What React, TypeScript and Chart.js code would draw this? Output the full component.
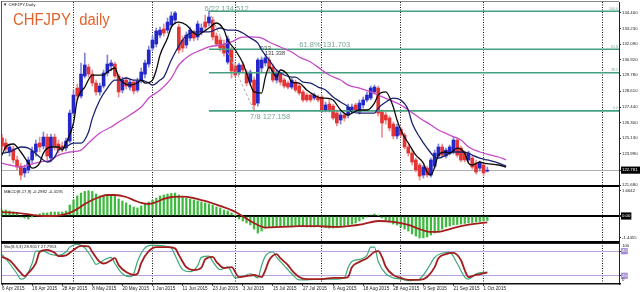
import React, { useEffect, useRef } from "react";
import { Chart, registerables } from "chart.js";

Chart.register(...registerables);

// ---------------- data ----------------
const symbolLabel = "CHFJPY,Daily";
const chartTitle = "CHFJPY  daily";
const macdLabel = "MACD(8,17,9) -0.2982 -0.4195";
const stochLabel = "Sto(8,3,3) 28.9017 27.7953";

const dateTickBars = [0, 8, 16, 24, 32, 40, 48, 56, 64, 72, 80, 88, 96, 104, 112, 120, 128];
const dateTickLabels = [
  "6 Apr 2015", "16 Apr 2015", "28 Apr 2015", "8 May 2015", "20 May 2015", "1 Jun 2015",
  "11 Jun 2015", "23 Jun 2015", "3 Jul 2015", "15 Jul 2015", "27 Jul 2015", "6 Aug 2015",
  "18 Aug 2015", "28 Aug 2015", "9 Sep 2015", "21 Sep 2015", "1 Oct 2015",
];
const periodSeparatorBars = [19, 40, 62, 85, 106, 128, 159.5];

const opens = [
  125.15, 124.78, 124.12, 124.34, 123.53, 123.08, 122.57, 122.79, 123.53, 124.12,
  124.78, 124.56, 125.22, 123.67, 125.22, 124.71, 124.56, 124.41, 124.93, 126.99,
  128.84, 128.25, 129.73, 130.39, 129.87, 129.21, 128.55, 128.99, 129.95, 130.47,
  130.61, 129.73, 128.69, 129.43, 128.91, 129.28, 128.69, 129.36, 129.87, 130.61,
  131.79, 132.09, 132.75, 133.20, 133.12, 133.49, 133.86, 133.34, 132.38, 132.02,
  132.53, 132.90, 132.61, 132.98, 133.71, 133.64, 133.86, 132.68, 132.38, 132.09,
  130.76, 131.65, 130.47, 130.02, 130.54, 130.02, 129.28, 129.43, 127.73, 130.32,
  130.69, 130.91, 130.39, 129.43, 129.87, 129.43, 129.21, 128.91, 129.28, 128.99,
  128.55, 128.32, 128.32, 128.10, 128.18, 128.18, 127.22, 127.66, 127.51, 126.99,
  126.48, 126.85, 126.85, 127.14, 127.59, 127.07, 127.59, 127.96, 128.10, 128.55,
  128.84, 127.07, 126.85, 126.63, 126.18, 125.30, 125.81, 125.37, 124.49, 124.04,
  123.53, 123.16, 122.42, 122.93, 122.42, 123.08, 123.82, 124.49, 123.82, 124.04,
  124.12, 125.00, 124.41, 124.04, 123.53, 123.67, 123.30, 122.93, 123.16, 122.71,
];
const highs = [
  125.45, 125.08, 124.71, 124.56, 123.82, 123.30, 123.16, 123.75, 124.49, 125.00,
  125.22, 125.59, 125.45, 125.45, 125.45, 125.00, 124.85, 125.15, 127.22, 128.69,
  129.14, 130.69, 131.42, 130.61, 130.17, 129.43, 129.21, 130.17, 131.28, 130.91,
  130.76, 129.87, 129.65, 129.65, 129.51, 129.43, 129.58, 130.32, 130.91, 131.94,
  132.68, 133.27, 133.34, 133.57, 134.01, 134.45, 134.50, 133.57, 132.68, 132.98,
  133.34, 133.12, 133.79, 133.57, 134.23, 134.512, 134.08, 132.90, 132.61, 132.38,
  132.68, 131.87, 130.69, 130.69, 130.76, 130.17, 130.17, 129.65, 131.06, 131.13,
  131.338, 131.13, 130.61, 130.17, 130.02, 129.58, 129.36, 129.58, 129.43, 129.14,
  128.69, 128.47, 128.40, 128.47, 128.32, 128.32, 127.81, 127.96, 127.66, 127.22,
  127.07, 126.99, 127.66, 127.66, 127.73, 127.96, 128.18, 128.55, 128.99, 129.06,
  128.99, 127.22, 127.07, 126.77, 126.33, 126.18, 125.96, 125.52, 124.63, 124.26,
  123.67, 123.30, 123.16, 123.08, 123.67, 124.26, 124.71, 124.71, 124.41, 124.63,
  125.22, 125.15, 124.56, 124.19, 124.19, 123.82, 123.53, 123.45, 123.30, 123.01,
];
const lows = [
  124.26, 124.12, 123.82, 123.30, 122.79, 122.05, 122.27, 122.57, 123.30, 123.82,
  124.12, 124.34, 123.53, 123.38, 124.26, 124.04, 124.12, 124.19, 124.78, 126.77,
  127.96, 128.10, 129.58, 129.65, 128.99, 128.32, 128.32, 128.84, 129.73, 130.10,
  129.58, 128.18, 128.47, 128.77, 128.69, 128.40, 128.55, 129.21, 129.58, 130.39,
  131.57, 131.87, 132.53, 132.68, 132.90, 133.27, 133.57, 131.42, 131.50, 131.79,
  132.31, 132.31, 132.38, 132.75, 133.12, 133.42, 132.38, 131.94, 131.57, 131.20,
  130.61, 129.58, 129.65, 129.80, 129.95, 128.99, 129.06, 127.158, 127.51, 130.02,
  130.47, 130.02, 129.28, 129.21, 129.06, 128.84, 128.77, 128.77, 128.55, 128.32,
  127.81, 127.81, 127.81, 127.96, 127.81, 127.07, 127.07, 127.07, 126.48, 126.04,
  126.18, 126.40, 126.63, 126.99, 127.07, 126.92, 127.36, 127.81, 127.96, 128.40,
  126.77, 125.22, 126.18, 125.67, 125.08, 125.08, 125.22, 124.34, 123.82, 123.16,
  122.64, 122.05, 122.20, 122.27, 122.27, 122.93, 123.67, 123.75, 123.67, 123.89,
  123.97, 123.75, 123.38, 123.38, 123.38, 122.86, 122.49, 122.71, 122.34, 122.64,
];
const closes = [
  124.56, 124.34, 124.49, 123.53, 123.01, 122.42, 122.93, 123.53, 124.19, 124.71,
  124.49, 125.22, 123.82, 125.22, 124.56, 124.26, 124.41, 124.93, 126.99, 128.32,
  128.25, 129.87, 130.54, 129.87, 129.21, 128.55, 128.99, 129.95, 130.61, 130.69,
  129.73, 128.55, 129.43, 128.99, 129.28, 128.62, 129.36, 130.02, 130.69, 131.65,
  132.38, 133.05, 133.12, 132.90, 133.71, 134.16, 134.38, 131.65, 131.79, 132.75,
  133.12, 132.53, 133.57, 133.27, 133.34, 134.08, 132.61, 132.09, 131.79, 131.42,
  132.46, 130.10, 129.80, 130.54, 130.17, 129.21, 130.02, 127.59, 130.91, 130.91,
  131.06, 130.32, 129.43, 130.02, 129.28, 128.99, 128.91, 129.43, 128.69, 128.47,
  127.96, 127.96, 127.96, 128.32, 127.96, 127.22, 127.59, 127.22, 126.63, 126.26,
  126.85, 126.63, 127.44, 127.44, 127.22, 127.73, 127.96, 128.32, 128.84, 128.91,
  126.99, 126.26, 126.48, 125.89, 125.30, 125.96, 125.37, 124.49, 124.04, 123.38,
  122.79, 122.34, 123.01, 122.42, 123.53, 124.04, 124.49, 123.89, 124.26, 124.49,
  125.00, 123.89, 123.53, 123.53, 124.04, 123.01, 122.64, 123.30, 122.57, 122.781,
];

const maFastBars = [0, 1, 3, 5, 7, 8, 10, 11, 13, 15, 16, 17, 19, 20, 22, 24, 25, 27, 28, 30, 31, 32, 34, 36, 37, 38, 40, 41, 42, 44, 45, 47, 49, 51, 52, 53, 55, 57, 59, 60, 62, 64, 65, 67, 69, 70, 71, 73, 74, 76, 77, 79, 81, 83, 85, 86, 88, 90, 92, 93, 95, 97, 99, 100, 102, 104, 105, 106, 107, 108, 110, 112, 113, 114, 115, 116, 118, 119, 121, 123, 124, 125, 127, 128, 132, 134];
const maFast = [123.89, 124.49, 124.71, 124.12, 123.30, 122.93, 123.30, 124.04, 124.49, 124.49, 124.26, 124.78, 126.26, 127.96, 128.91, 129.80, 129.80, 129.80, 130.02, 130.32, 129.65, 129.28, 129.06, 129.21, 129.43, 129.21, 129.43, 130.17, 131.28, 132.53, 133.34, 133.71, 133.49, 132.90, 132.75, 132.90, 133.27, 133.64, 133.12, 132.38, 131.65, 130.69, 129.95, 128.55, 128.47, 129.65, 130.39, 129.65, 130.17, 129.80, 129.28, 129.21, 128.69, 128.32, 128.10, 128.10, 127.96, 127.22, 126.85, 126.99, 127.22, 127.22, 127.73, 128.32, 128.55, 127.44, 126.48, 125.74, 125.22, 124.78, 123.89, 123.30, 122.64, 122.42, 123.01, 123.89, 124.12, 124.04, 124.41, 124.04, 123.30, 123.16, 123.38, 123.30, 123.16, 123.01];

const maMidBars = [0, 2, 5, 7, 10, 12, 14, 15, 17, 19, 21, 23, 24, 26, 28, 30, 31, 33, 35, 37, 39, 40, 42, 43, 45, 48, 50, 52, 55, 58, 60, 62, 64, 66, 68, 69, 71, 73, 75, 77, 78, 80, 82, 84, 86, 88, 90, 92, 93, 95, 97, 99, 100, 102, 104, 106, 108, 109, 111, 113, 115, 116, 118, 120, 122, 124, 125, 127, 129, 132, 134];
const maMid = [124.04, 124.12, 124.49, 124.41, 123.75, 123.38, 123.75, 124.26, 124.49, 124.78, 124.78, 125.60, 126.60, 127.96, 128.84, 129.43, 129.43, 129.58, 129.43, 129.43, 129.21, 129.06, 129.43, 129.65, 130.91, 132.38, 132.90, 132.98, 132.98, 133.27, 133.12, 133.12, 132.90, 132.53, 132.16, 131.65, 130.91, 130.17, 129.80, 129.65, 129.65, 129.28, 129.21, 128.91, 128.70, 128.18, 127.81, 127.44, 127.07, 126.99, 126.99, 126.99, 127.36, 127.81, 128.10, 127.96, 127.22, 126.26, 125.22, 124.41, 123.75, 123.67, 123.89, 124.12, 124.12, 124.04, 123.89, 123.67, 123.53, 123.30, 123.08];

const maSlowBars = [0, 2, 5, 7, 10, 13, 15, 18, 21, 23, 26, 29, 31, 34, 37, 39, 42, 45, 47, 50, 53, 55, 58, 61, 63, 66, 69, 71, 74, 77, 79, 82, 85, 87, 90, 92, 95, 98, 100, 103, 106, 108, 111, 114, 116, 119, 122, 124, 127, 130, 132, 134];
const maSlow = [123.30, 123.16, 123.01, 123.16, 123.38, 123.53, 123.89, 124.12, 124.26, 124.78, 125.52, 125.96, 126.33, 126.85, 127.44, 128.10, 128.69, 129.58, 130.54, 131.28, 131.65, 131.87, 132.02, 132.24, 132.53, 132.61, 132.53, 132.24, 131.87, 131.50, 131.13, 130.76, 130.17, 129.80, 129.43, 129.06, 128.84, 128.55, 128.32, 127.96, 127.59, 127.22, 126.63, 126.11, 125.74, 125.37, 125.00, 124.49, 124.12, 123.89, 123.75, 123.53];

const priceAxisTicks = [134.4, 133.23, 132.09, 130.92, 129.78, 128.61, 127.44, 126.3, 125.13, 123.99, 122.781, 121.68];
const currentPrice = 122.781;

const fibLevels = [134.512, 131.703, 129.967, 127.158];
const fibLevelNames = ["100.0", "61.8", "38.2", "0.0"];
const fibAnchorBars = [55, 67];
const fibAnchorDates = ["6/22", "7/8"];
const fibAnchorPrices = [134.512, 127.158];
const fibMidLabelBar = 79;
const peakBar = 70;
const peakDate = "7/13";
const peakPrice = 131.338;

const macdMain = [
  0.39, 0.39, 0.33, 0.26, 0.20, -0.07, -0.13, -0.20, -0.03, 0.07,
  0.13, 0.20, 0.20, 0.26, 0.26, 0.26, 0.26, 0.33, 0.72, 1.05,
  1.32, 1.51, 1.62, 1.6642, 1.62, 1.45, 1.32, 1.32, 1.38, 1.38,
  1.32, 1.12, 0.99, 0.86, 0.72, 0.59, 0.53, 0.66, 0.79, 0.92,
  1.05, 1.18, 1.32, 1.38, 1.45, 1.48, 1.51, 1.38, 1.25, 1.18,
  1.12, 1.05, 0.99, 0.92, 0.86, 0.79, 0.72, 0.59, 0.53, 0.39,
  0.33, 0.20, 0.02, -0.20, -0.33, -0.46, -0.59, -0.86, -1.12, -0.99,
  -0.79, -0.72, -0.72, -0.72, -0.72, -0.69, -0.72, -0.72, -0.66, -0.66,
  -0.69, -0.72, -0.72, -0.72, -0.66, -0.72, -0.76, -0.79, -0.79, -0.76,
  -0.72, -0.66, -0.59, -0.53, -0.46, -0.33, -0.20, -0.07, 0.07, 0.13,
  0.02, -0.13, -0.26, -0.39, -0.53, -0.59, -0.72, -0.86, -0.99, -1.18,
  -1.32, -1.4455, -1.44, -1.38, -1.25, -1.12, -0.99, -0.86, -0.72, -0.66,
  -0.59, -0.56, -0.53, -0.49, -0.46, -0.43, -0.39, -0.36, -0.33, -0.2982,
];
const macdSignalBars = [0, 4, 8, 12, 15, 18, 20, 22, 24, 26, 28, 30, 33, 35, 37, 39, 41, 43, 45, 48, 51, 53, 55, 58, 61, 63, 66, 68, 70, 74, 79, 84, 88, 92, 96, 100, 104, 108, 111, 114, 116, 119, 122, 125, 129];
const macdSignal = [0.26, 0.20, 0.07, 0.0, 0.03, 0.20, 0.46, 0.79, 1.05, 1.25, 1.38, 1.38, 1.25, 1.05, 0.86, 0.79, 0.92, 1.12, 1.25, 1.28, 1.18, 1.05, 0.92, 0.66, 0.39, 0.13, -0.33, -0.59, -0.76, -0.72, -0.66, -0.66, -0.72, -0.66, -0.53, -0.33, -0.39, -0.59, -0.86, -1.05, -1.05, -0.86, -0.66, -0.53, -0.4195];
const macdAxisTicks = [1.6642, 0, -1.4455];

const stochKBars = [0, 2, 4, 5, 6, 8, 9, 11, 13, 15, 17, 18, 20, 22, 24, 25, 27, 29, 30, 32, 34, 35, 36, 38, 40, 43, 45, 46, 48, 50, 52, 53, 55, 56, 58, 60, 62, 64, 66, 68, 69, 70, 72, 73, 75, 77, 79, 81, 85, 88, 91, 92, 93, 95, 97, 98, 99, 100, 102, 104, 106, 108, 110, 111, 113, 115, 117, 119, 121, 123, 124, 126, 129];
const stochK = [72, 50, 25, 12, 14, 50, 80, 80, 72, 70, 78, 90, 97, 88, 62, 48, 58, 65, 50, 25, 18, 25, 55, 88, 95, 93, 88, 70, 35, 30, 45, 65, 68, 55, 35, 42, 15, 18, 25, 15, 45, 68, 78, 65, 45, 25, 10, 10, 12, 12, 15, 40, 55, 60, 70, 90, 90, 55, 25, 15, 12, 8, 10, 12, 35, 65, 75, 77, 50, 17, 12, 25, 28.9017];
const stochDBars = [0, 2, 5, 6, 7, 9, 10, 12, 14, 15, 17, 19, 21, 23, 24, 26, 27, 29, 30, 31, 33, 35, 36, 37, 39, 41, 44, 46, 47, 49, 51, 53, 54, 56, 57, 59, 61, 63, 65, 67, 69, 70, 71, 73, 74, 76, 77, 79, 81, 85, 88, 91, 92, 93, 95, 97, 99, 100, 101, 102, 104, 106, 108, 111, 113, 115, 116, 118, 120, 122, 123, 124, 126, 129];
const stochD = [66, 58, 27, 19, 27, 51, 78, 83, 76, 68, 70, 83, 93, 92, 78, 54, 50, 58, 63, 46, 29, 22, 25, 51, 80, 90, 90, 87, 71, 41, 34, 40, 60, 66, 54, 39, 41, 17, 19, 22, 17, 34, 58, 73, 63, 46, 34, 17, 12, 12, 15, 15, 17, 41, 54, 63, 78, 80, 66, 42, 22, 15, 10, 10, 17, 41, 63, 73, 76, 58, 34, 17, 22, 27.7953];
const stochLevels = [80, 20];

// ---------------- view / style ----------------
const FONT = '"Liberation Sans", Arial, Helvetica, sans-serif';
const X_MIN = -0.27;
const X_MAX = 164;
const AXIS_W = 21;
const PRICE_MIN = 121.61;
const PRICE_MAX = 135.19;
const MACD_MIN = -1.711;
const MACD_MAX = 1.908;

const BULL = "#2326c9";
const BEAR = "#e23434";
const BULL_WICK = "#8084d8";
const BEAR_WICK = "#e89090";
const FIB = "#44a07f";
const FIB_TEXT = "#79a896";
const TITLE_COLOR = "#e2622b";

const toPts = (xs: number[], ys: number[]) => xs.map((x, i) => ({ x, y: ys[i] }));

function separatorAxis(): any {
  return {
    type: "linear",
    position: "bottom",
    min: X_MIN,
    max: X_MAX,
    offset: false,
    afterBuildTicks: (s: any) => {
      s.ticks = periodSeparatorBars.map((v) => ({ value: v }));
    },
    afterFit: (s: any) => {
      s.height = 0;
      s.paddingLeft = 0;
      s.paddingRight = 0;
    },
    ticks: { display: false },
    grid: { display: true, offset: false, drawOnChartArea: true, drawTicks: false, color: "#111", lineWidth: 1 },
    border: { display: false, dash: [1, 1.5] },
  };
}

function rightAxis(min: number, max: number, ticks: number[], extra: any): any {
  return {
    type: "linear",
    position: "right",
    min,
    max,
    afterBuildTicks: (s: any) => {
      s.ticks = ticks.map((v) => ({ value: v }));
    },
    afterFit: (s: any) => {
      s.width = AXIS_W;
      s.paddingTop = 0;
      s.paddingBottom = 0;
    },
    border: { display: true, color: "#222", width: 1 },
    ...extra,
  };
}

const baseOptions: any = {
  responsive: false,
  maintainAspectRatio: false,
  animation: false,
  devicePixelRatio: 1,
  events: [],
  plugins: { legend: { display: false }, tooltip: { enabled: false } },
};

function priceConfig(): any {
  const bodyColors = closes.map((c, i) => (c >= opens[i] ? BULL : BEAR));
  const wickColors = closes.map((c, i) => (c >= opens[i] ? BULL_WICK : BEAR_WICK));
  const overlay = {
    id: "priceOverlay",
    afterDraw(chart: any) {
      const { ctx, chartArea: a } = chart;
      const xs = chart.scales.x;
      const ys = chart.scales.y;
      ctx.save();
      ctx.fillStyle = "#888";
      ctx.fillRect(a.left, a.top - 1, a.right - a.left, 1);
      ctx.fillStyle = "#555";
      ctx.fillRect(a.left, a.top - 1, 1, a.bottom - a.top + 1);
      ctx.fillStyle = "#000";
      ctx.fillRect(a.left, a.bottom - 1, a.right - a.left, 2);

      ctx.textAlign = "left";
      ctx.textBaseline = "middle";
      ctx.fillStyle = "#222";
      ctx.font = `4.3px ${FONT}`;
      ctx.fillText("\u25BC " + symbolLabel, a.left + 2, a.top + 3);

      ctx.save();
      ctx.translate(a.left + 12, a.top + 23);
      ctx.scale(0.93, 1);
      ctx.font = `16px ${FONT}`;
      ctx.fillStyle = TITLE_COLOR;
      ctx.textBaseline = "alphabetic";
      ctx.fillText(chartTitle, 0, 0);
      ctx.restore();

      ctx.textBaseline = "alphabetic";
      ctx.textAlign = "right";
      ctx.font = `3.6px ${FONT}`;
      ctx.fillStyle = FIB_TEXT;
      fibLevels.forEach((p, k) => ctx.fillText(fibLevelNames[k], a.right - 1, ys.getPixelForValue(p) - 1.5));

      ctx.textAlign = "left";
      ctx.font = `7.6px ${FONT}`;
      const hx = xs.getPixelForValue(fibAnchorBars[0]);
      const hy = ys.getPixelForValue(fibAnchorPrices[0]);
      ctx.fillText(`${fibAnchorDates[0]} ${fibAnchorPrices[0].toFixed(3)}`, hx - 4.5, hy - 0.5);
      const lx = xs.getPixelForValue(fibAnchorBars[1]);
      const ly = ys.getPixelForValue(fibAnchorPrices[1]);
      ctx.fillText(`${fibAnchorDates[1]} ${fibAnchorPrices[1].toFixed(3)}`, lx - 4, ly + 7.8);
      const mx = xs.getPixelForValue(fibMidLabelBar);
      const my = ys.getPixelForValue(fibLevels[1]);
      ctx.fillText(`${fibLevelNames[1]}% ${fibLevels[1].toFixed(3)}`, mx, my - 1.8);

      ctx.font = `5.6px ${FONT}`;
      ctx.fillStyle = "#3a3a3a";
      const px = xs.getPixelForValue(peakBar);
      const py = ys.getPixelForValue(peakPrice);
      ctx.fillText(peakDate, px - 5.5, py - 4);
      ctx.fillText(peakPrice.toFixed(3), px - 0.5, py + 1);
      ctx.restore();
    },
  };

  const line = (data: any[], color: string, width: number, order: number, extra: any = {}) => ({
    type: "line",
    data,
    borderColor: color,
    borderWidth: width,
    pointRadius: 0,
    fill: false,
    order,
    ...extra,
  });

  return {
    type: "bar",
    data: {
      datasets: [
        {
          type: "bar",
          data: lows.map((l, i) => ({ x: i, y: [l, highs[i]] })),
          backgroundColor: wickColors,
          barThickness: 1,
          grouped: false,
          order: 6,
        },
        {
          type: "bar",
          data: opens.map((o, i) => ({ x: i, y: [o, closes[i]] })),
          backgroundColor: bodyColors,
          barThickness: 3,
          grouped: false,
          order: 5,
        },
        ...fibLevels.map((p) =>
          line([{ x: fibAnchorBars[0], y: p }, { x: X_MAX, y: p }], FIB, 1.6, 4)
        ),
        line(toPts(fibAnchorBars, fibAnchorPrices), "#a8a8a8", 1, 4, { borderDash: [3, 2] }),
        line(toPts(maSlowBars, maSlow), "#c74ac7", 1.3, 3, { cubicInterpolationMode: "monotone" }),
        line(toPts(maMidBars, maMid), "#1c2470", 1.3, 2, { cubicInterpolationMode: "monotone" }),
        line(toPts(maFastBars, maFast), "#0a0a0a", 1.3, 1, { cubicInterpolationMode: "monotone" }),
      ],
    },
    options: {
      ...baseOptions,
      layout: { autoPadding: false, padding: { left: 1, right: 0, top: 2, bottom: 1 } },
      scales: {
        x: separatorAxis(),
        y: rightAxis(PRICE_MIN, PRICE_MAX, priceAxisTicks, {
          ticks: {
            autoSkip: false,
            padding: 1,
            font: { size: 4.3, family: FONT },
            color: (c: any) => (c.tick && c.tick.value === currentPrice ? "#fff" : "#222"),
            showLabelBackdrop: (c: any) => !!(c.tick && c.tick.value === currentPrice),
            backdropColor: "#000",
            backdropPadding: { top: 1, bottom: 1, left: 1, right: 4 },
            callback: (v: number) => v.toFixed(3),
          },
          grid: {
            drawOnChartArea: true,
            drawTicks: true,
            tickLength: 2,
            tickColor: "#333",
            color: (c: any) => (c.tick && c.tick.value === currentPrice ? "#b0b0b0" : "rgba(0,0,0,0)"),
            lineWidth: 1,
          },
        }),
      },
    },
    plugins: [overlay],
  };
}

function macdConfig(): any {
  const overlay = {
    id: "macdOverlay",
    afterDraw(chart: any) {
      const { ctx, chartArea: a } = chart;
      ctx.save();
      ctx.fillStyle = "#555";
      ctx.fillRect(a.left, a.top, 1, a.bottom - a.top);
      ctx.fillStyle = "#000";
      ctx.fillRect(a.left, a.bottom - 1, a.right - a.left, 2);
      ctx.fillStyle = "#222";
      ctx.font = `4.3px ${FONT}`;
      ctx.textAlign = "left";
      ctx.textBaseline = "middle";
      ctx.fillText(macdLabel, a.left + 3, a.top + 4.5);
      ctx.restore();
    },
  };
  return {
    type: "bar",
    data: {
      datasets: [
        {
          type: "bar",
          data: macdMain.map((v, i) => ({ x: i, y: v })),
          backgroundColor: "#3dba3d",
          barThickness: 1.6,
          grouped: false,
          order: 2,
        },
        {
          type: "line",
          data: toPts(macdSignalBars, macdSignal),
          borderColor: "#a41e1e",
          borderWidth: 1.8,
          pointRadius: 0,
          cubicInterpolationMode: "monotone",
          order: 1,
        },
      ],
    },
    options: {
      ...baseOptions,
      layout: { autoPadding: false, padding: { left: 1, right: 0, top: 0, bottom: 1 } },
      scales: {
        x: separatorAxis(),
        y: rightAxis(MACD_MIN, MACD_MAX, macdAxisTicks, {
          ticks: {
            autoSkip: false,
            padding: 1,
            font: { size: 4.3, family: FONT },
            color: (c: any) => (c.tick && c.tick.value === 0 ? "#fff" : "#222"),
            showLabelBackdrop: (c: any) => !!(c.tick && c.tick.value === 0),
            backdropColor: "#000",
            backdropPadding: { top: 1, bottom: 1, left: 1, right: 1 },
            callback: (v: number) => (v === 0 ? "0.00" : v.toFixed(4)),
          },
          grid: {
            drawOnChartArea: true,
            drawTicks: true,
            tickLength: 2,
            tickColor: "#333",
            color: (c: any) => (c.tick && c.tick.value === 0 ? "#000" : "rgba(0,0,0,0)"),
            lineWidth: (c: any) => (c.tick && c.tick.value === 0 ? 2 : 1),
          },
        }),
      },
    },
    plugins: [overlay],
  };
}

function stochConfig(): any {
  const overlay = {
    id: "stochOverlay",
    afterDraw(chart: any) {
      const { ctx, chartArea: a } = chart;
      ctx.save();
      ctx.fillStyle = "#555";
      ctx.fillRect(a.left, a.top, 1, a.bottom - a.top);
      ctx.fillStyle = "#222";
      ctx.fillRect(a.left, a.top, a.right - a.left, 1);
      ctx.fillStyle = "#111";
      ctx.fillRect(a.left, a.bottom - 1, a.right - a.left + 2, 1.5);
      ctx.fillStyle = "#222";
      ctx.font = `4.3px ${FONT}`;
      ctx.textAlign = "left";
      ctx.textBaseline = "middle";
      ctx.fillText(stochLabel, a.left + 3, a.top + 3.5);
      ctx.fillText("100", a.right + 3, a.top + 3);
      ctx.fillText("0", a.right + 3, a.bottom - 4);
      ctx.restore();
    },
  };
  return {
    type: "bar",
    data: {
      datasets: [
        {
          type: "line",
          data: toPts(stochKBars, stochK),
          borderColor: "#3aa87a",
          borderWidth: 1.2,
          pointRadius: 0,
          cubicInterpolationMode: "monotone",
          order: 2,
        },
        {
          type: "line",
          data: toPts(stochDBars, stochD),
          borderColor: "#a41e1e",
          borderWidth: 1.8,
          pointRadius: 0,
          cubicInterpolationMode: "monotone",
          order: 1,
        },
      ],
    },
    options: {
      ...baseOptions,
      layout: { autoPadding: false, padding: { left: 1, right: 0, top: 0, bottom: 0 } },
      scales: {
        x: separatorAxis(),
        xLabels: {
          type: "linear",
          position: "bottom",
          min: X_MIN,
          max: X_MAX,
          offset: false,
          afterBuildTicks: (s: any) => {
            s.ticks = dateTickBars.map((v) => ({ value: v }));
          },
          afterFit: (s: any) => {
            s.height = 8;
            s.paddingLeft = 0;
            s.paddingRight = 0;
          },
          ticks: {
            display: true,
            autoSkip: false,
            maxRotation: 0,
            minRotation: 0,
            align: "start",
            padding: 0,
            font: { size: 4.6, family: FONT },
            color: "#222",
            callback: (_v: number, i: number) => dateTickLabels[i],
          },
          grid: { display: true, offset: false, drawOnChartArea: false, drawTicks: true, tickLength: 2, tickColor: "#555" },
          border: { display: false },
        },
        y: rightAxis(0, 100, stochLevels, {
          ticks: {
            autoSkip: false,
            padding: 1,
            font: { size: 4.3, family: FONT },
            color: "#fff",
            showLabelBackdrop: true,
            backdropColor: "#a48ad6",
            backdropPadding: { top: 0.5, bottom: 0.5, left: 1, right: 1 },
            callback: (v: number) => String(v),
          },
          grid: {
            drawOnChartArea: true,
            drawTicks: true,
            tickLength: 2,
            tickColor: "#333",
            color: "#b8a2dc",
            lineWidth: 1,
          },
        }),
      },
    },
    plugins: [overlay],
  };
}

export default function App() {
  const priceRef = useRef<HTMLCanvasElement>(null);
  const macdRef = useRef<HTMLCanvasElement>(null);
  const stochRef = useRef<HTMLCanvasElement>(null);

  useEffect(() => {
    const charts = [
      new Chart(priceRef.current as HTMLCanvasElement, priceConfig()),
      new Chart(macdRef.current as HTMLCanvasElement, macdConfig()),
      new Chart(stochRef.current as HTMLCanvasElement, stochConfig()),
    ];
    return () => charts.forEach((c) => c.destroy());
  }, []);

  const cs = (h: number): any => ({ display: "block", width: 640, height: h });
  return (
    <div style={{ position: "absolute", left: 0, top: 0, width: 640, height: 292, background: "#fff" }}>
      <canvas ref={priceRef} width={640} height={187} style={cs(187)} />
      <canvas ref={macdRef} width={640} height={56} style={cs(56)} />
      <canvas ref={stochRef} width={640} height={49} style={cs(49)} />
    </div>
  );
}
